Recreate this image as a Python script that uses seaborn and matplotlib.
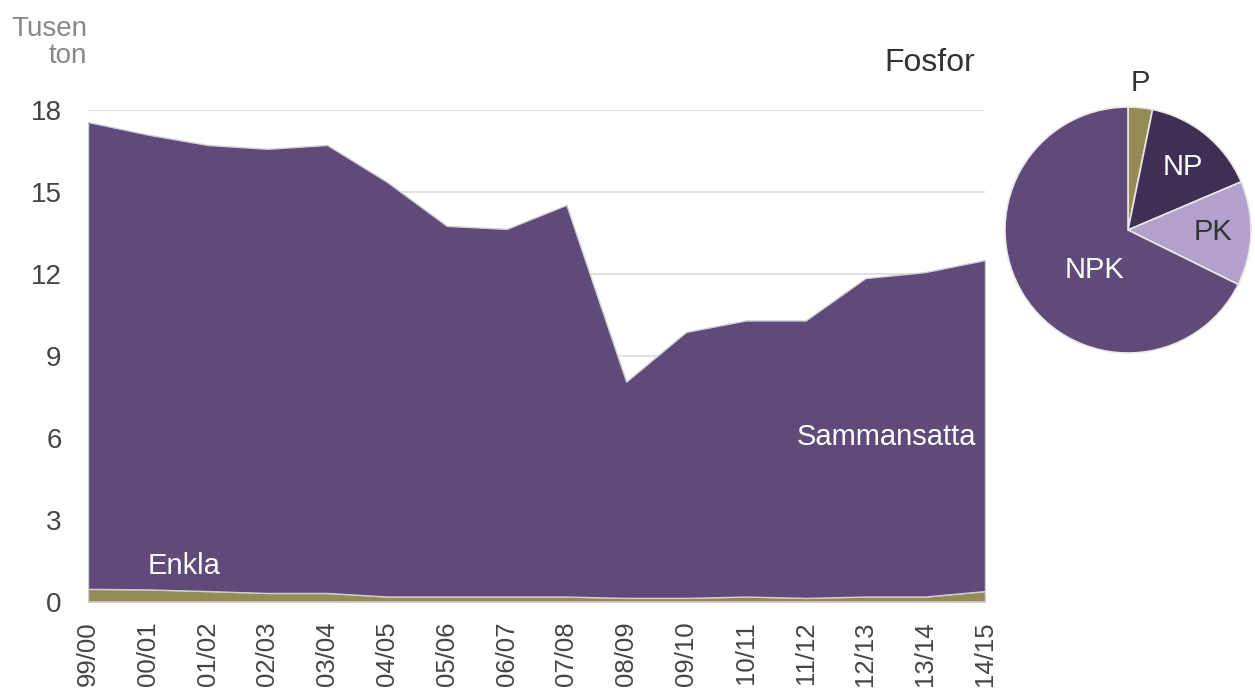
import matplotlib
matplotlib.use("Agg")
import matplotlib.pyplot as plt
import seaborn as sns
import numpy as np

years = ["99/00", "00/01", "01/02", "02/03", "03/04", "04/05", "05/06", "06/07",
         "07/08", "08/09", "09/10", "10/11", "11/12", "12/13", "13/14", "14/15"]
total = [17.56, 17.10, 16.72, 16.58, 16.72, 15.37, 13.76, 13.65,
         14.53, 8.06, 9.88, 10.30, 10.30, 11.85, 12.07, 12.51]
enkla = [0.48, 0.46, 0.40, 0.33, 0.33, 0.20, 0.20, 0.20,
         0.20, 0.15, 0.15, 0.20, 0.15, 0.20, 0.20, 0.40]
sammansatta = [t - e for t, e in zip(total, enkla)]

pie_labels = ["P", "NP", "PK", "NPK"]
pie_values = [3.2, 15.4, 13.7, 67.7]

yticks = [0, 3, 6, 9, 12, 15, 18]

purple = "#5f4a7a"
olive = "#958c55"
dark = "#3f2f55"
light = "#b3a0cc"

sns.set_theme(style="white")
plt.rcParams["font.family"] = ["Liberation Sans", "DejaVu Sans"]

fig = plt.figure(figsize=(12.55, 6.91), dpi=100)
ax = fig.add_axes([88/1255, 1-602/691, (985-88)/1255, (602-110)/691])

x = np.arange(len(years))
for yv in yticks[1:]:
    ax.axhline(yv, color="#dcdcdc", lw=1.2, zorder=0)
ax.stackplot(x, enkla, sammansatta, colors=[olive, purple],
             edgecolor="#d0d0d0", linewidth=1.0, zorder=2)
ax.set_xlim(0, len(years)-1)
ax.set_ylim(0, 18)
ax.set_xticks(x)
ax.set_xticklabels(years, rotation=90, fontsize=18.5, color="#444444")
ax.set_yticks(yticks)
ax.set_yticklabels([str(v) for v in yticks], fontsize=20, color="#444444")
ax.tick_params(axis="both", length=0)
ax.tick_params(axis="x", pad=14)
ax.tick_params(axis="y", pad=19)
for s in ax.spines.values():
    s.set_visible(False)
ax.axhline(0, color="#cccccc", lw=1.2, zorder=3)

fig.text(87/1255, 1-16/691, "Tusen\nton", ha="right", va="top", fontsize=20,
         color="#888888", linespacing=1.05)
fig.text(975/1255, 1-63/691, "Fosfor", ha="right", va="center", fontsize=23,
         color="#333333")
ax.text(14.85, 6.05, "Sammansatta", ha="right", va="center",
        fontsize=21, color="white")
ax.text(1.0, 1.3, "Enkla", ha="left", va="center", fontsize=21, color="white")

pax = fig.add_axes([1005/1255, 1-353/691, 246/1255, 246/691])
wedges, _ = pax.pie(pie_values, colors=[olive, dark, light, purple],
                    startangle=90, counterclock=False,
                    wedgeprops=dict(edgecolor="#e8e8e8", linewidth=1.2))
pax.set_xlim(-1, 1)
pax.set_ylim(-1, 1)
pax.set_aspect("equal")
pax.axis("off")
pie_pos = [(0.1, 1.195, "#333333"), (0.447, 0.51, "white"), (0.69, -0.016, "#333333"), (-0.27, -0.325, "white")]
for (px, py, c), lab in zip(pie_pos, pie_labels):
    pax.text(px, py, lab, ha="center", va="center", fontsize=21, color=c)

fig.savefig("out.png", dpi=100)
